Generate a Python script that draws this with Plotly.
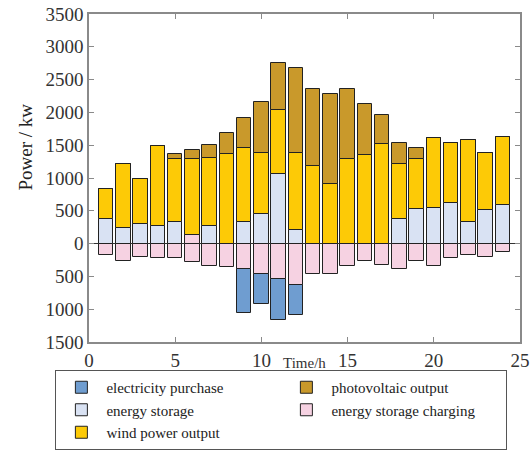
import plotly.graph_objects as go

hours = list(range(1, 25))

electricity_purchase = [0, 0, 0, 0, 0, 0, 0, 0, -671, -463, -625, -457,
                        0, 0, 0, 0, 0, 0, 0, 0, 0, 0, 0, 0]
energy_storage = [376, 234, 300, 269, 325, 0, 269, 0, 330, 452, 1062, 208,
                  0, 0, 0, 0, 0, 376, 523, 538, 615, 330, 518, 594]
wind_power = [457, 974, 688, 1225, 970, 1170, 1037, 1372, 1133, 930, 980, 1179,
              1178, 914, 1290, 1351, 1514, 843, 767, 1072, 924, 1245, 859, 1032]
photovoltaic = [0, 0, 0, 0, 72, 133, 192, 320, 452, 777, 716, 1290,
                1179, 1367, 1067, 778, 452, 315, 168, 0, 0, 0, 0, 0]
storage_charging = [-173, -259, -203, -218, -218, -279, -340, -350, -386, -462, -538, -625,
                    -462, -462, -340, -269, -330, -381, -269, -340, -218, -168, -198, -127]
storage_charging_above = [0, 0, 0, 0, 0, 125, 0, 0, 0, 0, 0, 0,
                          0, 0, 0, 0, 0, 0, 0, 0, 0, 0, 0, 0]

y_ticks = [-1500, -1000, -500, 0, 500, 1000, 1500, 2000, 2500, 3000, 3500]
y_tick_text = [str(abs(v)) for v in y_ticks]
x_ticks = [0, 5, 10, 15, 20, 25]

C_BLUE = "#6f9dd0"
C_STORE = "#d9e2f3"
C_WIND = "#fdca06"
C_PV = "#c9992b"
C_PINK = "#f6d2e2"
LINE = dict(color="#222222", width=1)
W = 0.84

fig = go.Figure()
fig.add_trace(go.Bar(x=hours, y=storage_charging_above, name="energy storage charging",
                     marker=dict(color=C_PINK, line=LINE), width=W,
                     legendgroup="ch", showlegend=False))
fig.add_trace(go.Bar(x=hours, y=storage_charging, name="energy storage charging",
                     marker=dict(color=C_PINK, line=LINE), width=W,
                     legendgroup="ch", legendrank=4))
fig.add_trace(go.Bar(x=hours, y=electricity_purchase, name="electricity purchase",
                     marker=dict(color=C_BLUE, line=LINE), width=W, legendrank=1))
fig.add_trace(go.Bar(x=hours, y=energy_storage, name="energy storage",
                     marker=dict(color=C_STORE, line=LINE), width=W, legendrank=3))
fig.add_trace(go.Bar(x=hours, y=wind_power, name="wind power output",
                     marker=dict(color=C_WIND, line=LINE), width=W, legendrank=5))
fig.add_trace(go.Bar(x=hours, y=photovoltaic, name="photovoltaic output",
                     marker=dict(color=C_PV, line=LINE), width=W, legendrank=2))

FONT = "Liberation Serif, Times New Roman, serif"
axis_common = dict(showline=True, linecolor="#8a8a8a", linewidth=1.5, mirror="ticks",
                   ticks="inside", ticklen=5, tickcolor="#8a8a8a", showgrid=False,
                   ticklabeloverflow="allow",
                   tickfont=dict(family=FONT, size=19, color="#333333"))

fig.update_layout(
    width=531, height=450,
    margin=dict(l=89, r=11, t=14, b=108, autoexpand=False),
    barmode="relative",
    bargap=0,
    plot_bgcolor="white", paper_bgcolor="white",
    font=dict(family=FONT, color="#222222"),
    xaxis=dict(range=[0, 25], tickvals=x_ticks, zeroline=False, **axis_common),
    yaxis=dict(range=[-1500, 3500], tickvals=y_ticks, ticktext=y_tick_text,
               zeroline=True, zerolinecolor="#333333", zerolinewidth=1, **axis_common),
    legend=dict(orientation="h", x=-0.078, y=-0.0854, xanchor="left", yanchor="top",
                entrywidth=170, entrywidthmode="pixels",
                bordercolor="#555555", borderwidth=1, bgcolor="rgba(255,255,255,0)",
                font=dict(family=FONT, size=15, color="#222222"),
                tracegroupgap=0, itemwidth=40, traceorder="normal"),
    annotations=[
        dict(text="Time/h", x=0.5, y=-0.064, xref="paper", yref="paper",
             showarrow=False, xanchor="center", yanchor="middle",
             font=dict(family=FONT, size=15, color="#333333")),
        dict(text="Power / kw", x=-0.147, y=0.595, xref="paper", yref="paper",
             showarrow=False, textangle=-90, xanchor="center", yanchor="middle",
             font=dict(family=FONT, size=19, color="#222222")),
    ],
)

fig.write_html("out.html", config={"displayModeBar": False},
               post_script="document.body.style.margin='0';")
